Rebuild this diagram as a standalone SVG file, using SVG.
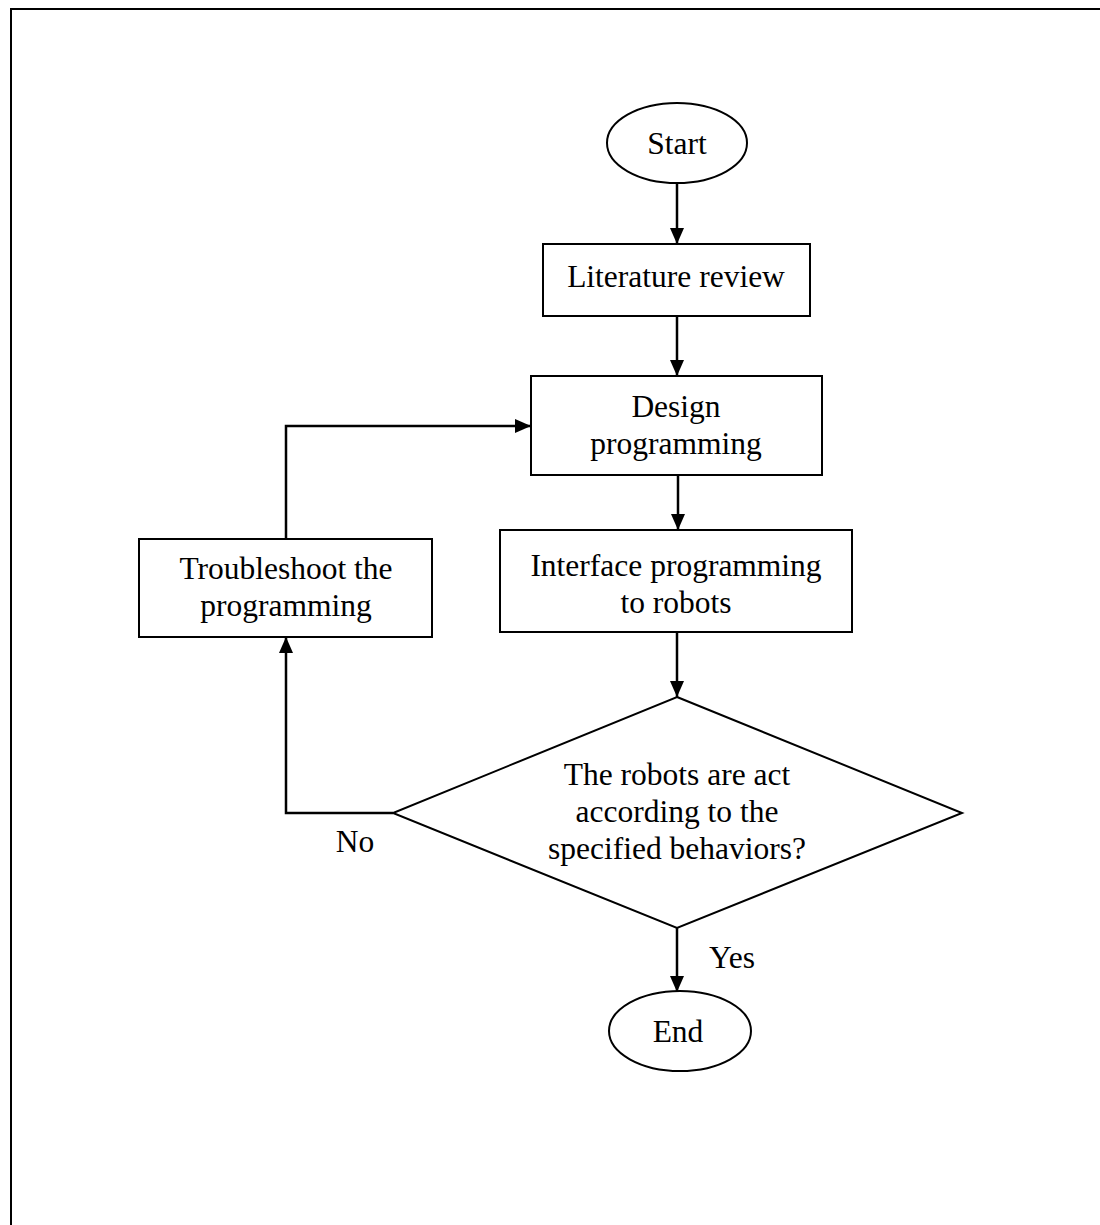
<svg xmlns="http://www.w3.org/2000/svg" width="1100" height="1225" viewBox="0 0 1100 1225">
<style>
.s{fill:#fff;stroke:#000;stroke-width:2}
.t{font-family:"Liberation Serif","Times New Roman",serif;font-size:31.5px;fill:#000;text-anchor:middle}
.c{fill:none;stroke:#000;stroke-width:2.5}
</style>
<defs>
<marker id="a" markerWidth="16" markerHeight="14" refX="16" refY="7" orient="auto" markerUnits="userSpaceOnUse">
<path d="M0,0 L16,7 L0,14 Z" fill="#000"/>
</marker>
</defs>
<rect x="11" y="9" width="1100" height="1240" fill="none" stroke="#000" stroke-width="2"/>
<g id="connectors">
<line class="c" x1="677" y1="183" x2="677" y2="244" marker-end="url(#a)"/>
<line class="c" x1="677" y1="316" x2="677" y2="376" marker-end="url(#a)"/>
<line class="c" x1="678" y1="475" x2="678" y2="530" marker-end="url(#a)"/>
<line class="c" x1="677" y1="632" x2="677" y2="697" marker-end="url(#a)"/>
<polyline class="c" points="393,813 286,813 286,637" marker-end="url(#a)"/>
<polyline class="c" points="286,539 286,426 531,426" marker-end="url(#a)"/>
<line class="c" x1="677" y1="928" x2="677" y2="992" marker-end="url(#a)"/>
<text class="t" x="355" y="852">No</text>
<text class="t" x="732" y="968">Yes</text>
</g>
<g id="start">
<ellipse class="s" cx="677" cy="143" rx="70" ry="40"/>
<text class="t" x="677" y="154">Start</text>
</g>
<g id="literature">
<rect class="s" x="543" y="244" width="267" height="72"/>
<text class="t" x="676" y="287">Literature review</text>
</g>
<g id="design">
<rect class="s" x="531" y="376" width="291" height="99"/>
<text class="t" x="676" y="417">Design</text>
<text class="t" x="676" y="454">programming</text>
</g>
<g id="interface">
<rect class="s" x="500" y="530" width="352" height="102"/>
<text class="t" x="676" y="576">Interface programming</text>
<text class="t" x="676" y="613">to robots</text>
</g>
<g id="troubleshoot">
<rect class="s" x="139" y="539" width="293" height="98"/>
<text class="t" x="286" y="579">Troubleshoot the</text>
<text class="t" x="286" y="616">programming</text>
</g>
<g id="decision">
<polygon class="s" points="677,697 962,813 677,928 393,813"/>
<text class="t" x="677" y="785">The robots are act</text>
<text class="t" x="677" y="822">according to the</text>
<text class="t" x="677" y="859">specified behaviors?</text>
</g>
<g id="end">
<ellipse class="s" cx="680" cy="1031" rx="71" ry="40"/>
<text class="t" x="678" y="1042">End</text>
</g>
</svg>
